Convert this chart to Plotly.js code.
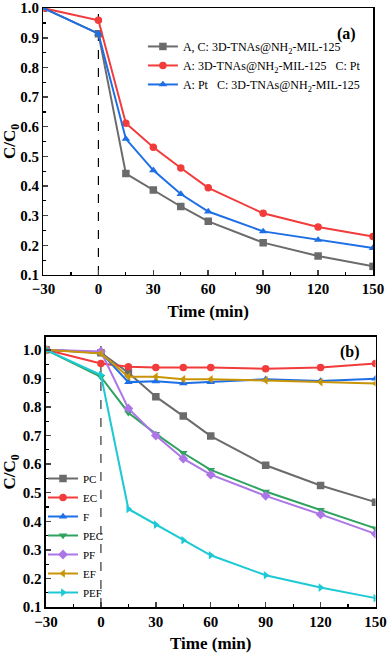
<!DOCTYPE html>
<html>
<head>
<meta charset="utf-8">
<script src="https://cdn.plot.ly/plotly-3.0.1.min.js"></script>
<style>
  html, body { margin: 0; padding: 0; background: #fff; }
  #chart { width: 387px; height: 653px; }
</style>
</head>
<body>
<div id="chart"></div>
<script>
// time points (min)
var time = [-30, 0, 15, 30, 45, 60, 90, 120, 150];

// panel (a): electrode configurations
var aNames = [
  'A, C: 3D-TNAs@NH<sub>2</sub>-MIL-125',
  'A: 3D-TNAs@NH<sub>2</sub>-MIL-125   C: Pt',
  'A: Pt   C: 3D-TNAs@NH<sub>2</sub>-MIL-125'
];
var aBoth   = [1.0, 0.914, 0.442, 0.387, 0.331, 0.281, 0.209, 0.164, 0.129];
var aAnode  = [1.0, 0.959, 0.612, 0.531, 0.461, 0.394, 0.308, 0.262, 0.230];
var aCathode = [1.0, 0.914, 0.559, 0.453, 0.373, 0.314, 0.247, 0.218, 0.191];

// panel (b): processes
var PC  = [1.0, 0.990, 0.920, 0.836, 0.768, 0.698, 0.596, 0.525, 0.467];
var EC  = [1.0, 0.952, 0.941, 0.938, 0.938, 0.938, 0.934, 0.938, 0.952];
var F   = [1.0, 0.990, 0.887, 0.890, 0.883, 0.887, 0.897, 0.891, 0.899];
var PEC = [1.0, 0.905, 0.780, 0.706, 0.639, 0.580, 0.504, 0.440, 0.375];
var PF  = [1.0, 0.994, 0.795, 0.700, 0.619, 0.563, 0.489, 0.424, 0.356];
var EF  = [1.0, 0.987, 0.906, 0.906, 0.897, 0.897, 0.893, 0.887, 0.882];
var PEF = [1.0, 0.912, 0.443, 0.388, 0.334, 0.281, 0.211, 0.168, 0.131];

var gray = '#6b6b6b', red = '#f23b3b', blue = '#1e6fe6', green = '#2ea35f',
    purple = '#ad76e6', gold = '#c99508', cyan = '#1cc9d4';

var serif = 'Liberation Serif, Times New Roman, serif';

function tr(y, name, color, sym, xa, ya, leg) {
  return {
    type: 'scatter', mode: 'lines+markers', x: time, y: y, name: name,
    xaxis: xa, yaxis: ya, legend: leg,
    line: {color: color, width: 2},
    marker: {color: color, symbol: sym, size: 7.5}
  };
}

var data = [
  tr(aBoth, aNames[0], gray, 'square', 'x', 'y', 'legend'),
  tr(aAnode, aNames[1], red, 'circle', 'x', 'y', 'legend'),
  tr(aCathode, aNames[2], blue, 'triangle-up', 'x', 'y', 'legend'),
  tr(PC, 'PC', gray, 'square', 'x2', 'y2', 'legend2'),
  tr(EC, 'EC', red, 'circle', 'x2', 'y2', 'legend2'),
  tr(F, 'F', blue, 'triangle-up', 'x2', 'y2', 'legend2'),
  tr(PEC, 'PEC', green, 'triangle-down', 'x2', 'y2', 'legend2'),
  tr(PF, 'PF', purple, 'diamond', 'x2', 'y2', 'legend2'),
  tr(EF, 'EF', gold, 'triangle-left', 'x2', 'y2', 'legend2'),
  tr(PEF, 'PEF', cyan, 'triangle-right', 'x2', 'y2', 'legend2')
];

var tickFont = {family: serif, size: 15, color: '#000', weight: 700};
var titleFont = {family: serif, size: 17, color: '#000', weight: 700};

function xax(domain, anchor) {
  return {
    domain: domain, anchor: anchor, range: [-30, 150], dtick: 30, tick0: -30,
    showgrid: false, zeroline: false, showline: true, mirror: true,
    linecolor: '#000', linewidth: 1.5, ticks: 'inside', ticklen: 5, tickwidth: 1.5,
    minor: {dtick: 15, ticks: 'inside', ticklen: 3, tickwidth: 1.2, tickcolor: '#000'},
    tickfont: tickFont, ticklabeloverflow: 'allow',
    title: {text: 'Time (min)', font: titleFont, standoff: 8}
  };
}
function yax(domain, anchor, range) {
  return {
    domain: domain, anchor: anchor, range: range, tick0: 0.1, dtick: 0.1, tickformat: '.1f',
    showgrid: false, zeroline: false, showline: true, mirror: true,
    linecolor: '#000', linewidth: 1.5, ticks: 'inside', ticklen: 5, tickwidth: 1.5,
    minor: {dtick: 0.05, ticks: 'inside', ticklen: 3, tickwidth: 1.2, tickcolor: '#000'},
    tickfont: tickFont, ticklabeloverflow: 'allow',
    title: {text: 'C/C<sub>0</sub>', font: titleFont, standoff: 8}
  };
}

var layout = {
  width: 387, height: 653,
  margin: {l: 43, r: 11, t: 8, b: 46},
  paper_bgcolor: '#fff', plot_bgcolor: '#fff',
  showlegend: true,
  xaxis: xax([0.0015, 0.991], 'y'),
  yaxis: yax([0.5543, 1], 'x', [0.1, 1.0005]),
  xaxis2: xax([0.009, 0.9985], 'y2'),
  yaxis2: yax([0, 0.4508], 'x2', [0.1, 1.045]),
  legend: {
    x: 0.3, y: 0.96, xanchor: 'left', yanchor: 'top',
    bgcolor: 'rgba(0,0,0,0)', font: {family: serif, size: 12, color: '#000'},
    itemwidth: 30
  },
  legend2: {
    x: 0.0, y: 0.0, xanchor: 'left', yanchor: 'bottom',
    bgcolor: 'rgba(0,0,0,0)', font: {family: serif, size: 11, color: '#000'},
    itemwidth: 30
  },
  shapes: [
    {type: 'line', xref: 'x', yref: 'y domain', x0: 0, x1: 0, y0: 0, y1: 1,
     line: {color: '#000', width: 1.2, dash: 'dash'}, layer: 'below'},
    {type: 'line', xref: 'x2', yref: 'y2 domain', x0: 0, x1: 0, y0: 0, y1: 1,
     line: {color: '#333', width: 1.2, dash: 'dash'}, layer: 'below'}
  ],
  annotations: [
    {text: '(a)', xref: 'paper', yref: 'paper', x: 0.946, y: 0.975, showarrow: false,
     font: {family: serif, size: 16, color: '#000', weight: 700}},
    {text: '(b)', xref: 'paper', yref: 'paper', x: 0.958, y: 0.4257, showarrow: false,
     font: {family: serif, size: 16, color: '#000', weight: 700}}
  ]
};

Plotly.newPlot('chart', data, layout, {displayModeBar: false, staticPlot: true});
</script>
</body>
</html>
